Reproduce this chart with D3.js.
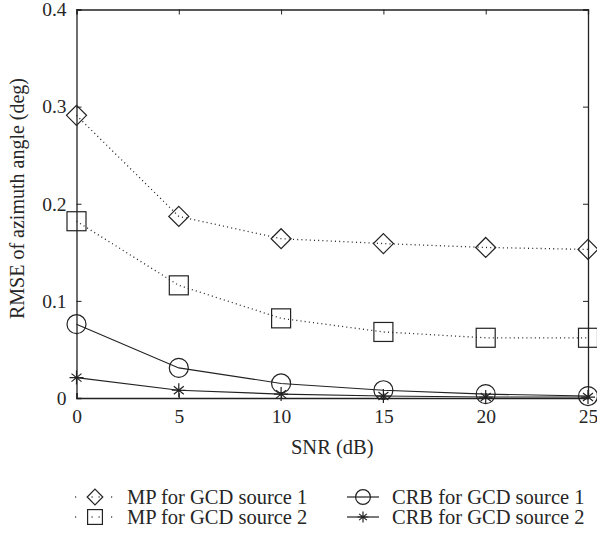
<!DOCTYPE html>
<html>
<head>
<meta charset="utf-8">
<script src="https://cdn.jsdelivr.net/npm/d3@7"></script>
<style>
  body { margin: 0; background: #fff; }
  svg text { font-family: "Liberation Serif", "DejaVu Serif", serif; fill: #262626; }
</style>
</head>
<body>
<svg id="chart" width="597" height="535"></svg>
<script>
const snr = [0, 5, 10, 15, 20, 25];
const mp1 = [0.291, 0.187, 0.164, 0.159, 0.155, 0.153];
const mp2 = [0.182, 0.116, 0.082, 0.068, 0.062, 0.062];
const crb1 = [0.076, 0.031, 0.015, 0.008, 0.004, 0.002];
const crb2 = [0.021, 0.008, 0.004, 0.002, 0.001, 0.001];
const xTicks = [0, 5, 10, 15, 20, 25];
const yTicks = [0, 0.1, 0.2, 0.3, 0.4];
const seriesNames = ["MP for GCD source 1", "MP for GCD source 2", "CRB for GCD source 1", "CRB for GCD source 2"];

const series = [
  { name: seriesNames[0], values: mp1, marker: "diamond", dash: "1,3.2" },
  { name: seriesNames[1], values: mp2, marker: "square", dash: "1,3.2" },
  { name: seriesNames[2], values: crb1, marker: "circle", dash: null },
  { name: seriesNames[3], values: crb2, marker: "star", dash: null }
];

const svg = d3.select("#chart");
const margin = { top: 9.5, left: 76.5, right: 9, bottom: 137 };
const width = +svg.attr("width");
const height = +svg.attr("height");
const innerWidth = width - margin.left - margin.right;
const innerHeight = height - margin.top - margin.bottom;

const x = d3.scaleLinear().domain([0, 25]).range([0, innerWidth]);
const y = d3.scaleLinear().domain([0, 0.4]).range([innerHeight, 0]);

const g = svg.append("g").attr("transform", `translate(${margin.left},${margin.top})`);
const ink = "#222";

// axes, ticks pointing inward, mirrored on top and right
const xAxis = d3.axisBottom(x).tickValues(xTicks).tickSize(-5).tickPadding(11.5).tickFormat(d3.format("d"));
const yAxis = d3.axisLeft(y).tickValues(yTicks).tickSize(-5).tickPadding(10).tickFormat(d => d === 0 ? "0" : d3.format(".1f")(d));

const gx = g.append("g").attr("transform", `translate(0,${innerHeight})`).call(xAxis);
const gy = g.append("g").call(yAxis);
const gxt = g.append("g").call(d3.axisTop(x).tickValues(xTicks).tickSize(-5).tickFormat(""));
const gyr = g.append("g").attr("transform", `translate(${innerWidth},0)`).call(d3.axisRight(y).tickValues(yTicks).tickSize(-5).tickFormat(""));

[gx, gy, gxt, gyr].forEach(a => {
  a.attr("font-family", null).attr("font-size", null);
  a.select(".domain").attr("stroke", ink).attr("stroke-width", 1.3);
  a.selectAll(".tick line").attr("stroke", ink).attr("stroke-width", 1);
  a.selectAll(".tick text").style("font-size", "19.5px").attr("fill", "#262626");
});

// axis titles
svg.append("text")
  .attr("x", margin.left + innerWidth / 2)
  .attr("y", 454)
  .attr("text-anchor", "middle")
  .style("font-size", "20.5px")
  .text("SNR (dB)");

svg.append("text")
  .attr("transform", `translate(24,198.5) rotate(-90)`)
  .attr("text-anchor", "middle")
  .style("font-size", "20px")
  .text("RMSE of azimuth angle (deg)");

function drawMarker(sel, type, k) {
  if (type === "diamond") {
    sel.append("path").attr("d", `M0,${-10 * k}L${10 * k},0L0,${10 * k}L${-10 * k},0Z`);
  } else if (type === "square") {
    sel.append("rect").attr("x", -9.5 * k).attr("y", -9.5 * k).attr("width", 19 * k).attr("height", 19 * k);
  } else if (type === "circle") {
    sel.append("circle").attr("r", 9.5 * k);
  } else if (type === "star") {
    const a = 7 * k, b = 5 * k, c = 4 * k;
    sel.append("path").attr("d", `M0,${-a}V${a}M${-a},0H${a}M${-b},${-c}L${b},${c}M${-b},${c}L${b},${-c}`);
  }
  sel.selectAll("*").attr("fill", "none").attr("stroke", ink).attr("stroke-width", 1.2);
}

const line = d3.line().x((d, i) => x(snr[i])).y(d => y(d));

series.forEach(s => {
  g.append("path")
    .datum(s.values)
    .attr("fill", "none")
    .attr("stroke", ink)
    .attr("stroke-width", s.dash ? 1.3 : 1.1)
    .attr("stroke-dasharray", s.dash)
    .attr("d", line);
  s.values.forEach((v, i) => {
    const m = g.append("g").attr("transform", `translate(${x(snr[i])},${y(v)})`);
    drawMarker(m, s.marker, 1);
  });
});

// legend, two columns
const legendPos = [
  { mx: 95, row: 0 }, { mx: 95, row: 1 },
  { mx: 363, row: 0 }, { mx: 363, row: 1 }
];
series.forEach((s, i) => {
  const p = legendPos[i];
  const cy = 497 + p.row * 20;
  const lg = svg.append("g").attr("transform", `translate(${p.mx},${cy})`);
  if (s.dash) {
    // dotted style: only a dot each side of the marker and one inside
    [-20, -3.5, 3.5, 16].forEach(dx => {
      lg.append("rect").attr("x", dx).attr("y", -0.6).attr("width", 1.2).attr("height", 1.2).attr("fill", ink);
    });
  } else {
    lg.append("line").attr("x1", -16).attr("x2", 16).attr("stroke", ink).attr("stroke-width", 1.2);
  }
  drawMarker(lg.append("g"), s.marker, 0.78);
  svg.append("text")
    .attr("x", p.mx + (p.mx < 200 ? 32 : 29))
    .attr("y", cy + 6.5)
    .style("font-size", "20.5px")
    .text(s.name);
});
</script>
</body>
</html>
